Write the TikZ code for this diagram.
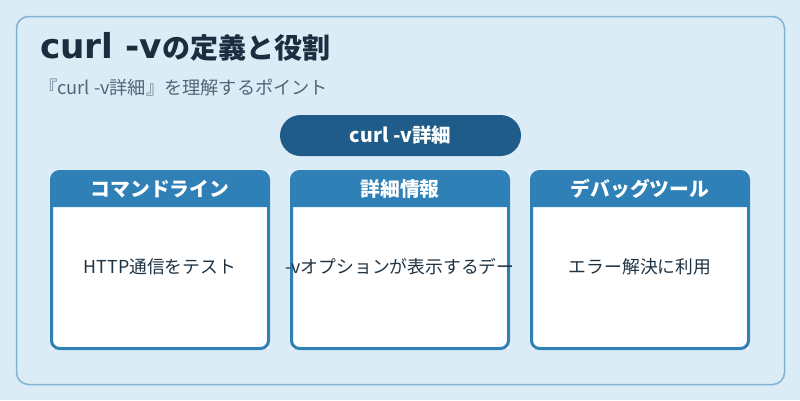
\documentclass[tikz,border=0pt]{standalone}
\usepackage{fontspec}
\setmainfont{Noto Sans CJK JP}
\newfontfamily\latinbold{DejaVu Sans}
\usepackage{xcolor}
\usetikzlibrary{positioning}

\definecolor{bgblue}{HTML}{DCECF7}
\definecolor{frameblue}{HTML}{7FB2D3}
\definecolor{pillblue}{HTML}{1F5C8A}
\definecolor{headblue}{HTML}{2E80B6}
\definecolor{titlecol}{HTML}{1A2E3F}
\definecolor{subcol}{HTML}{506678}
\definecolor{bodycol}{HTML}{1E3344}

\tikzset{
  card/.style={fill=white, minimum width=217pt, minimum height=177pt, inner sep=0pt, outer sep=0pt},
  headtext/.style={text=white, font=\bfseries\fontsize{19.8}{22}\selectfont},
  bodytext/.style={text=bodycol, font=\fontsize{17.8}{21}\selectfont},
}

\begin{document}
\begin{tikzpicture}[x=1pt,y=-1pt]
  % Draw the background and the frame
  \useasboundingbox[fill=bgblue] (0,0) rectangle (800,400);
  \draw[frameblue, line width=1.5pt, rounded corners=12pt] (16.5,16.5) rectangle (784.5,384.5);

  % Title and subtitle
  \node[anchor=base west, inner sep=0pt, text=titlecol, font=\bfseries\fontsize{28}{32}\selectfont] (title) at (40,58.3) {{\latinbold\bfseries\fontsize{34.3}{36}\selectfont curl -v}の定義と役割};
  \node[anchor=base west, inner sep=0pt, text=subcol, font=\fontsize{18.2}{20}\selectfont] (subtitle) at (39,94) {『curl -v詳細』を理解するポイント};

  % Central pill
  \node[fill=pillblue, rounded corners=20.5pt, minimum width=241pt, minimum height=41pt, text=white, font=\bfseries\fontsize{19.5}{22}\selectfont] (topic) at (400.5,135.5) {curl -v詳細};

  % Three cards with a header strip each
  \foreach \cx/\name/\head/\body in {160/cmd/コマンドライン/HTTP通信をテスト, 400/info/詳細情報/-vオプションが表示するデー, 640/debug/デバッグツール/エラー解決に利用} {
    \node[card] (\name) at (\cx,260) {};
    \fill[headblue] (\cx-108.5,207) [rounded corners=8pt] -- (\cx-108.5,171.5) -- (\cx+108.5,171.5) [sharp corners] -- (\cx+108.5,207) -- cycle;
    \draw[headblue, line width=3pt, rounded corners=8pt] (\name.north west) rectangle (\name.south east);
    \node[headtext] (\name-head) at (\cx,189) {\head};
    \node[bodytext] (\name-body) at (\cx,267) {\body};
  }

\end{tikzpicture}
\end{document}
